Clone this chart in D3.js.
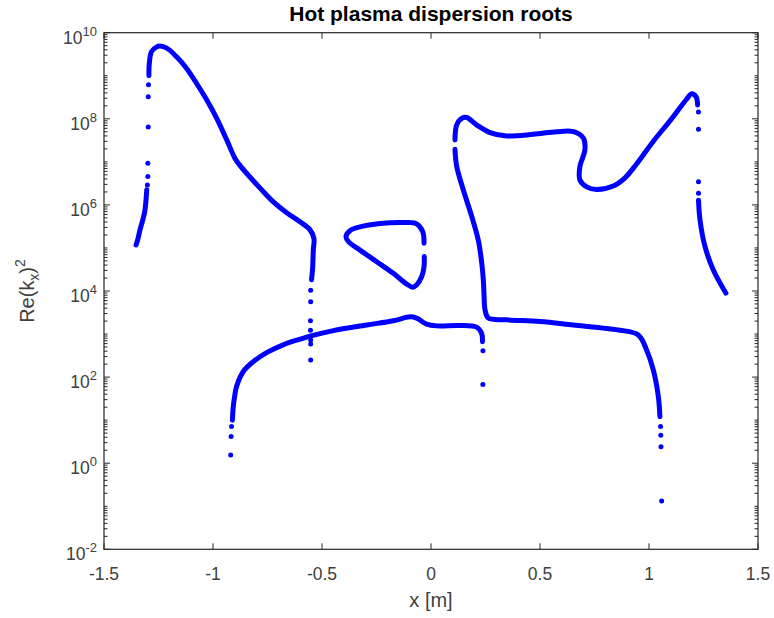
<!DOCTYPE html>
<html>
<head>
<meta charset="utf-8">
<script src="https://cdn.jsdelivr.net/npm/d3@7"></script>
<style>
  body { margin: 0; background: #fff; }
  text { font-family: "Liberation Sans", Arial, Helvetica, sans-serif; }
</style>
</head>
<body>
<svg id="chart" width="774" height="618"></svg>
<script>
// values: x in metres, y given as log10 of Re(kx)^2

// left branch, lower piece and its sparse dots
const leftLowX = [-1.353, -1.345, -1.335, -1.322, -1.312, -1.304];
const leftLowE = [5.07, 5.20, 5.42, 5.65, 5.88, 6.35];
const leftDotsX = [-1.301, -1.299, -1.299, -1.297, -1.297, -1.296];
const leftDotsE = [6.46, 6.66, 6.97, 7.81, 8.51, 8.79];

// left branch, big hump down to x = -0.55
const humpX = [-1.294, -1.292, -1.282, -1.258, -1.243, -1.212, -1.167, -1.121, -1.075, -1.029, -0.983, -0.937, -0.899, -0.872, -0.845, -0.784, -0.723, -0.662, -0.601, -0.555, -0.537, -0.540, -0.543, -0.548];
const humpE = [9.00, 9.29, 9.56, 9.67, 9.69, 9.64, 9.44, 9.17, 8.82, 8.44, 8.01, 7.51, 7.08, 6.89, 6.73, 6.39, 6.07, 5.82, 5.61, 5.42, 5.22, 4.95, 4.53, 4.26];
const humpDotsX = [-0.552, -0.552, -0.553, -0.553, -0.552, -0.552, -0.552];
const humpDotsE = [4.02, 3.75, 3.31, 3.09, 2.86, 2.77, 2.40];

// lower branch from x = -0.91 to x = 0.24
const lowX = [-0.911, -0.907, -0.902, -0.892, -0.861, -0.815, -0.754, -0.678, -0.601, -0.555, -0.448, -0.295, -0.173, -0.096, -0.066, -0.020, 0.026, 0.133, 0.209, 0.232, 0.236];
const lowE = [1.00, 1.31, 1.51, 1.78, 2.13, 2.36, 2.57, 2.75, 2.88, 2.95, 3.08, 3.21, 3.31, 3.40, 3.37, 3.23, 3.19, 3.20, 3.16, 3.02, 2.82];
const lowDotsX = [-0.919, -0.917, -0.915, 0.238, 0.238];
const lowDotsE = [0.19, 0.62, 0.85, 2.61, 1.83];

// closed loop in the middle
const loopX = [-0.032, -0.038, -0.066, -0.112, -0.234, -0.326, -0.372, -0.390, -0.379, -0.326, -0.249, -0.173, -0.111, -0.084, -0.066, -0.043, -0.032, -0.031];
const loopE = [5.11, 5.38, 5.56, 5.59, 5.57, 5.49, 5.40, 5.26, 5.15, 4.95, 4.68, 4.41, 4.16, 4.09, 4.14, 4.33, 4.56, 4.80];

// branch from x = 0.11 down and across to x = 1.05
const midX = [0.110, 0.118, 0.148, 0.187, 0.217, 0.233, 0.240, 0.243, 0.248, 0.263, 0.347, 0.500, 0.653, 0.806, 0.867, 0.951, 0.989, 1.020, 1.043, 1.050];
const midE = [7.29, 6.89, 6.35, 5.73, 5.18, 4.64, 4.26, 3.95, 3.56, 3.37, 3.33, 3.29, 3.21, 3.13, 3.09, 2.98, 2.63, 2.16, 1.54, 1.08];
const midDotsX = [1.053, 1.054, 1.055, 1.058];
const midDotsE = [0.85, 0.65, 0.38, -0.88];

// upper right branch
const upX = [0.110, 0.118, 0.141, 0.164, 0.209, 0.271, 0.347, 0.469, 0.577, 0.653, 0.699, 0.706, 0.683, 0.683, 0.714, 0.760, 0.836, 0.890, 0.943, 1.020, 1.099, 1.173, 1.195, 1.216, 1.223];
const upE = [7.51, 7.86, 8.01, 8.03, 7.86, 7.68, 7.60, 7.64, 7.70, 7.70, 7.55, 7.28, 6.89, 6.58, 6.42, 6.36, 6.44, 6.63, 6.95, 7.48, 7.97, 8.46, 8.58, 8.51, 8.32];
const upDotsX = [1.227, 1.227, 1.227, 1.227];
const upDotsE = [8.16, 7.76, 6.54, 6.27];

// far right tail
const tailX = [1.227, 1.234, 1.257, 1.295, 1.353];
const tailE = [6.11, 5.65, 5.03, 4.49, 3.95];

const xTicks = [-1.5, -1, -0.5, 0, 0.5, 1, 1.5];
const yTickExps = [-2, 0, 2, 4, 6, 8, 10];

const svg = d3.select("#chart");
const plotLeft = 104, plotRight = 758, plotTop = 32.7, plotBottom = 549.3;
const axisColor = "#262626";
const blue = "#0000ff";

const x = d3.scaleLinear().domain([-1.5, 1.5]).range([plotLeft, plotRight]);
const y = d3.scaleLog().domain([1e-2, 1e10]).range([plotBottom, plotTop]);

function pts(xs, es) {
    return xs.map((v, i) => [v, Math.pow(10, es[i])]);
}

const line = d3.line()
    .x(d => x(d[0]))
    .y(d => y(d[1]))
    .curve(d3.curveCatmullRom.alpha(0.5));

const plot = svg.append("g");

[[leftLowX, leftLowE], [humpX, humpE], [lowX, lowE], [loopX, loopE],
 [midX, midE], [upX, upE], [tailX, tailE]].forEach(b => {
    plot.append("path")
        .attr("d", line(pts(b[0], b[1])))
        .attr("fill", "none")
        .attr("stroke", blue)
        .attr("stroke-width", 5)
        .attr("stroke-linecap", "round")
        .attr("stroke-linejoin", "round");
});

[[leftDotsX, leftDotsE], [humpDotsX, humpDotsE], [lowDotsX, lowDotsE],
 [midDotsX, midDotsE], [upDotsX, upDotsE]].forEach(b => {
    plot.selectAll(null)
        .data(pts(b[0], b[1]))
        .enter().append("circle")
        .attr("cx", d => x(d[0]))
        .attr("cy", d => y(d[1]))
        .attr("r", 2.5)
        .attr("fill", blue);
});

// axes box
svg.append("rect")
    .attr("x", plotLeft).attr("y", plotTop)
    .attr("width", plotRight - plotLeft).attr("height", plotBottom - plotTop)
    .attr("fill", "none")
    .attr("stroke", axisColor)
    .attr("stroke-width", 1.2);

const ticks = svg.append("g").attr("stroke", axisColor).attr("stroke-width", 1);

// x ticks, inward on bottom and top
xTicks.forEach(t => {
    ticks.append("line").attr("x1", x(t)).attr("x2", x(t)).attr("y1", plotBottom).attr("y2", plotBottom - 6);
    ticks.append("line").attr("x1", x(t)).attr("x2", x(t)).attr("y1", plotTop).attr("y2", plotTop + 6);
});

// y ticks: major at even decades, minor at everything else
for (let n = -2; n <= 9; n++) {
    for (let k = 1; k <= 9; k++) {
        const v = k * Math.pow(10, n);
        const major = (k === 1 && n % 2 === 0);
        const len = major ? 6 : 3.5;
        ticks.append("line").attr("x1", plotLeft).attr("x2", plotLeft + len).attr("y1", y(v)).attr("y2", y(v));
        ticks.append("line").attr("x1", plotRight).attr("x2", plotRight - len).attr("y1", y(v)).attr("y2", y(v));
    }
}
ticks.append("line").attr("x1", plotLeft).attr("x2", plotLeft + 6).attr("y1", y(1e10)).attr("y2", y(1e10));
ticks.append("line").attr("x1", plotRight).attr("x2", plotRight - 6).attr("y1", y(1e10)).attr("y2", y(1e10));

// x tick labels
svg.append("g").selectAll("text")
    .data(xTicks)
    .enter().append("text")
    .attr("x", d => x(d))
    .attr("y", 580)
    .attr("text-anchor", "middle")
    .attr("font-size", 17.5)
    .attr("fill", "#404040")
    .text(d => d);

// y tick labels as 10^n
const yl = svg.append("g").selectAll("text")
    .data(yTickExps)
    .enter().append("text")
    .attr("x", 97)
    .attr("y", d => y(Math.pow(10, d)) + 11)
    .attr("text-anchor", "end")
    .attr("font-size", 17.5)
    .attr("fill", "#404040");
yl.append("tspan").text("10");
yl.append("tspan").attr("dy", -8).attr("font-size", 13).text(d => d);

// title
svg.append("text")
    .attr("x", (plotLeft + plotRight) / 2)
    .attr("y", 21)
    .attr("text-anchor", "middle")
    .attr("font-size", 21)
    .attr("font-weight", "bold")
    .attr("fill", "#000")
    .text("Hot plasma dispersion roots");

// x label
svg.append("text")
    .attr("x", (plotLeft + plotRight) / 2)
    .attr("y", 607)
    .attr("text-anchor", "middle")
    .attr("font-size", 20)
    .attr("fill", "#404040")
    .text("x [m]");

// y label
const ylab = svg.append("text")
    .attr("transform", `translate(34,${(plotTop + plotBottom) / 2}) rotate(-90)`)
    .attr("text-anchor", "middle")
    .attr("font-size", 20)
    .attr("fill", "#404040");
ylab.append("tspan").text("Re(k");
ylab.append("tspan").attr("dy", 5).attr("font-size", 14).text("x");
ylab.append("tspan").attr("dy", -5).text(")");
ylab.append("tspan").attr("dy", -9).attr("font-size", 14).text("2");
</script>
</body>
</html>
